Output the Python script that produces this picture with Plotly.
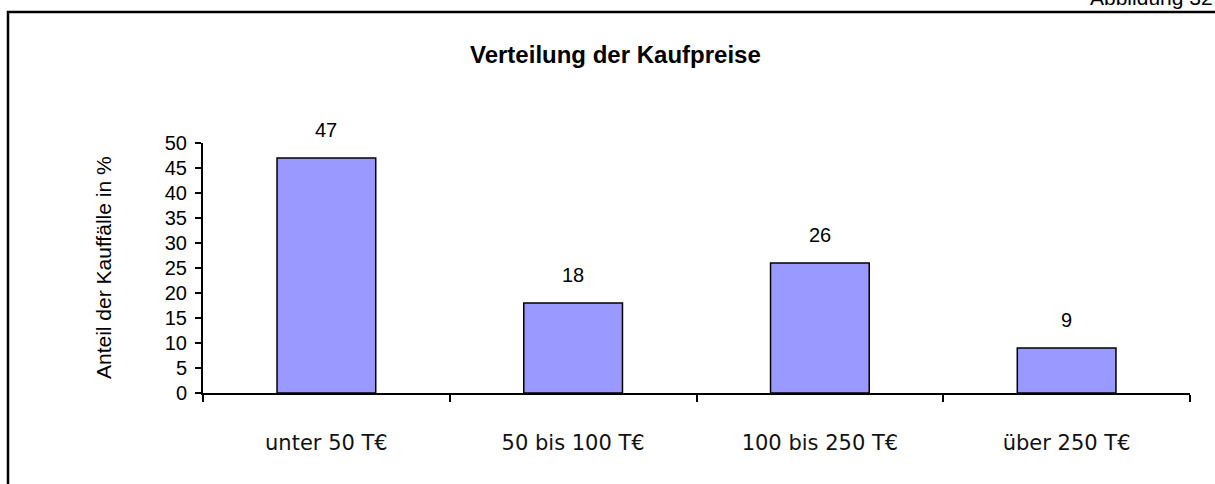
import plotly.graph_objects as go

categories = ["unter 50 T€", "50 bis 100 T€", "100 bis 250 T€", "über 250 T€"]
shares = [47, 18, 26, 9]
y_ticks = list(range(0, 55, 5))

W, H = 1215, 484
L, R, T, B = 203, 25, 143, 91
PW, PH = W - L - R, H - T - B

def px(x):
    return (x - L) / PW

def py(y):
    return (H - B - y) / PH

fig = go.Figure()
fig.add_trace(go.Bar(
    x=categories, y=shares,
    marker=dict(color="#9999FF", line=dict(color="black", width=1.5)),
    hoverinfo="x+y",
))

for c, v in zip(categories, shares):
    fig.add_annotation(x=c, y=v, xref="x", yref="y", text=str(v), showarrow=False,
                       yanchor="bottom", yshift=15,
                       font=dict(family="Liberation Sans, Arial", size=20, color="black"))

fig.add_annotation(x=px(615), y=py(55), xref="paper", yref="paper",
                   text="<b>Verteilung der Kaufpreise</b>", showarrow=False,
                   xanchor="center", yanchor="middle",
                   font=dict(family="Liberation Sans, Arial", size=24, color="black"))
fig.add_annotation(x=px(103), y=py(268), xref="paper", yref="paper",
                   text="Anteil der Kauffälle in %", showarrow=False, textangle=-90,
                   xanchor="center", yanchor="middle",
                   font=dict(family="Liberation Sans, Arial", size=21, color="black"))
fig.add_annotation(x=px(1215), y=py(11), xref="paper", yref="paper",
                   text="Abbildung 32", showarrow=False,
                   xanchor="right", yanchor="bottom",
                   font=dict(family="Liberation Sans, Arial", size=21, color="black"))

fig.add_shape(type="rect", xref="paper", yref="paper",
              x0=px(8), x1=px(1240), y0=py(500), y1=py(12),
              line=dict(color="black", width=2.5), fillcolor="rgba(0,0,0,0)", layer="below")

fig.update_layout(
    width=W, height=H,
    margin=dict(l=L, r=R, t=T, b=B, pad=0),
    plot_bgcolor="white", paper_bgcolor="white",
    bargap=0.6, showlegend=False,
    xaxis=dict(type="category", showline=True, linecolor="black", linewidth=2,
               ticks="outside", tickson="boundaries", ticklen=7, tickwidth=2, tickcolor="black",
               ticklabelstandoff=30,
               tickfont=dict(family="DejaVu Sans", size=21, color="#111"),
               showgrid=False, zeroline=False),
    yaxis=dict(range=[0, 50], tickvals=y_ticks, showline=True, linecolor="black", linewidth=2,
               ticks="outside", ticklen=6, tickwidth=2, tickcolor="black",
               ticklabelstandoff=4,
               tickfont=dict(family="Liberation Sans, Arial", size=20, color="black"),
               showgrid=False, zeroline=False),
)

fig.write_html("out.html",
               config={"displayModeBar": False},
               post_script="document.body.style.margin='0';document.body.style.overflow='hidden';")
